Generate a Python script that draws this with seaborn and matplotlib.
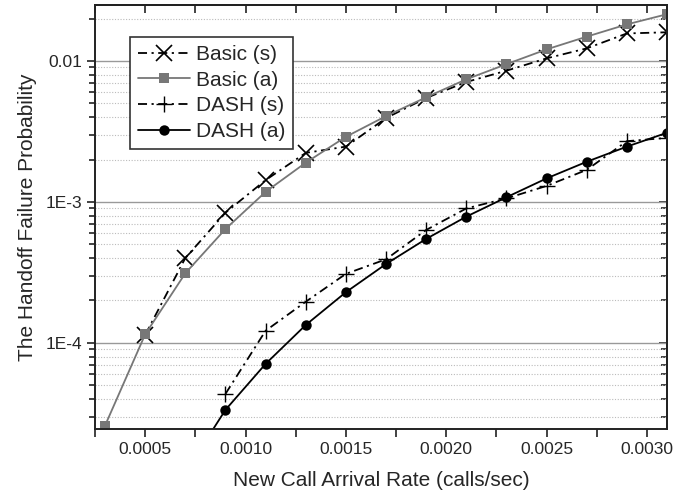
import numpy as np
import pandas as pd
import seaborn as sns
import matplotlib.pyplot as plt
from matplotlib.ticker import FixedLocator, FixedFormatter, MultipleLocator, FormatStrFormatter, LogLocator, NullFormatter

# values
rate = [0.0003, 0.0005, 0.0007, 0.0009, 0.0011, 0.0013, 0.0015, 0.0017,
        0.0019, 0.0021, 0.0023, 0.0025, 0.0027, 0.0029, 0.0031]

basic_s_x = rate[1:]
basic_s = [1.14e-4, 4.0e-4, 8.4e-4, 1.43e-3, 2.23e-3, 2.47e-3, 3.94e-3,
           5.47e-3, 7.1e-3, 8.54e-3, 1.045e-2, 1.23e-2, 1.57e-2, 1.6e-2]

basic_a_x = rate
basic_a = [2.59e-5, 1.15e-4, 3.12e-4, 6.43e-4, 1.18e-3, 1.9e-3, 2.9e-3, 4.07e-3,
           5.53e-3, 7.42e-3, 9.5e-3, 1.21e-2, 1.49e-2, 1.82e-2, 2.15e-2]

dash_s_x = rate[3:]
dash_s = [4.35e-5, 1.22e-4, 1.96e-4, 3.09e-4, 3.92e-4, 6.33e-4, 9.0e-4,
          1.06e-3, 1.30e-3, 1.69e-3, 2.7e-3, 2.85e-3]

dash_a_x = rate[2:]
dash_a = [1.2e-5, 3.35e-5, 7.1e-5, 1.34e-4, 2.29e-4, 3.63e-4, 5.47e-4, 7.87e-4,
          1.08e-3, 1.47e-3, 1.93e-3, 2.47e-3, 3.1e-3]

sns.set_style("white")
plt.rcParams['font.family'] = ['Liberation Sans', 'DejaVu Sans']

fig = plt.figure(figsize=(6.92, 4.96), dpi=100)
ax = fig.add_axes([0.1373, 0.1351, 0.8266, 0.8549])

dashdot = (0, (5, 2.5, 1.2, 2.5))
series = [
    ("Basic (s)", basic_s_x, basic_s, dict(color="black", linestyle=dashdot, marker="x",
                                            markersize=12, markeredgewidth=1.2,
                                            markeredgecolor="black")),
    ("Basic (a)", basic_a_x, basic_a, dict(color="#777777", linestyle="-", marker="s",
                                            markersize=6.5, markeredgewidth=0)),
    ("DASH (s)", dash_s_x, dash_s, dict(color="black", linestyle=dashdot, marker="+",
                                         markersize=12, markeredgewidth=1.0,
                                         markeredgecolor="black")),
    ("DASH (a)", dash_a_x, dash_a, dict(color="black", linestyle="-", marker="o",
                                         markersize=7.5, markeredgewidth=0)),
]

for name, xs, ys, kw in series:
    df = pd.DataFrame({"x": xs, "y": ys})
    sns.lineplot(data=df, x="x", y="y", ax=ax, label=name, linewidth=1.3, **kw)

ax.set_yscale("log")
ax.set_xlim(0.00025, 0.0031)
ax.set_ylim(2.45e-5, 0.025)

# y ticks
ax.yaxis.set_major_locator(FixedLocator([1e-4, 1e-3, 1e-2]))
ax.yaxis.set_major_formatter(FixedFormatter(["1E-4", "1E-3", "0.01"]))
ax.yaxis.set_minor_locator(LogLocator(base=10, subs=np.arange(2, 10)))
ax.yaxis.set_minor_formatter(NullFormatter())

# x ticks
ax.xaxis.set_major_locator(MultipleLocator(0.0005))
ax.xaxis.set_major_formatter(FormatStrFormatter('%.4f'))
ax.xaxis.set_minor_locator(MultipleLocator(0.00025))

ax.tick_params(which="both", direction="out", left=True, bottom=True,
               labelsize=12.5, width=1.2, color="#222222")
ax.tick_params(which="major", length=6)
ax.tick_params(which="minor", length=4)
ax.tick_params(axis="x", which="minor", length=6)

# grid lines
ax.grid(False)
ax.yaxis.grid(True, which="major", color="#999999", linestyle="-", linewidth=1.0)
ax.yaxis.grid(True, which="minor", color="#bbbbbb", linestyle=(0, (1, 1.5)), linewidth=0.8)
ax.set_axisbelow(True)

for s in ax.spines.values():
    s.set_color("#222222")
    s.set_linewidth(1.4)

# inward ticks on top and right
top = ax.secondary_xaxis("top")
top.xaxis.set_major_locator(MultipleLocator(0.00025))
top.tick_params(direction="in", length=6, width=1.2, labeltop=False, color="#222222")
top.xaxis.set_minor_locator(FixedLocator([]))
top.spines["top"].set_linewidth(1.4)
right = ax.secondary_yaxis("right")
right.yaxis.set_major_locator(FixedLocator([1e-4, 1e-3, 1e-2]))
right.yaxis.set_minor_locator(LogLocator(base=10, subs=np.arange(2, 10)))
right.yaxis.set_minor_formatter(NullFormatter())
right.tick_params(which="both", direction="in", width=1.2, labelright=False, color="#222222")
right.tick_params(which="major", length=6)
right.tick_params(which="minor", length=4)
right.spines["right"].set_linewidth(1.4)

ax.set_xlabel("New Call Arrival Rate (calls/sec)", fontsize=15, labelpad=10)
ax.set_ylabel("The Handoff Failure Probability", fontsize=15, labelpad=6)

leg = ax.legend(loc="upper left", bbox_to_anchor=(0.061, 0.925), fontsize=15,
                frameon=True, fancybox=False, edgecolor="#333333", framealpha=1,
                handlelength=2.5, borderpad=0.4, labelspacing=0.32, handletextpad=0.25,
                borderaxespad=0)
leg.get_frame().set_linewidth(1.2)

fig.savefig("out.png", dpi=100)
